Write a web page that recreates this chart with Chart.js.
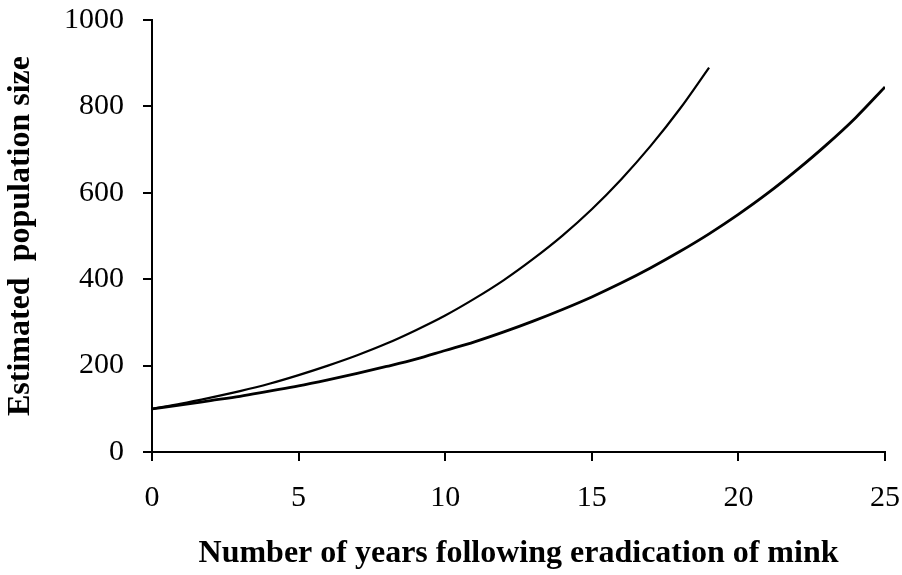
<!DOCTYPE html>
<html>
<head>
<meta charset="utf-8">
<script src="https://cdn.jsdelivr.net/npm/chart.js@4"></script>
<style>
  html, body { margin: 0; padding: 0; background: #fff; }
  #wrap { width: 902px; height: 575px; }
</style>
</head>
<body>
<div id="wrap"><canvas id="popChart" width="902" height="575"></canvas></div>
<script>
// years after eradication and the estimated sizes
const yearsFast = [0, 1, 2, 3, 4, 5, 6, 7, 8, 9, 10, 11, 12, 13, 14, 15, 16, 17, 18, 19];
const popFast = [100, 112, 126, 141, 158, 178, 200, 224, 251, 282, 316, 355, 398, 447, 501, 562, 631, 708, 794, 890];

const yearsSlow = [0, 1, 2, 3, 4, 5, 6, 7, 8, 9, 10, 11, 12, 13, 14, 15, 16, 17, 18, 19, 20, 21, 22, 23, 24, 25];
const popSlow = [100, 109, 119, 129, 141, 153, 167, 182, 198, 215, 235, 255, 278, 303, 330, 359, 391, 426, 464, 505, 550, 599, 653, 711, 774, 845];

const xTicks = [0, 5, 10, 15, 20, 25];
const yTicks = [0, 200, 400, 600, 800, 1000];

const serif = '"Liberation Serif", "Times New Roman", serif';

function toPoints(xs, ys) {
    return xs.map((x, i) => ({ x: x, y: ys[i] }));
}

const ctx = document.getElementById('popChart').getContext('2d');
const popChart = new Chart(ctx, {
    type: 'line',
    data: {
        datasets: [{
            label: 'fast',
            data: toPoints(yearsFast, popFast),
            borderColor: '#000',
            borderWidth: 2.2,
            pointRadius: 0,
            cubicInterpolationMode: 'monotone',
            fill: false
        }, {
            label: 'slow',
            data: toPoints(yearsSlow, popSlow),
            borderColor: '#000',
            borderWidth: 2.8,
            pointRadius: 0,
            cubicInterpolationMode: 'monotone',
            fill: false
        }]
    },
    options: {
        responsive: false,
        animation: false,
        layout: { padding: { top: 20, right: 17, left: 0, bottom: 0 } },
        plugins: {
            legend: { display: false },
            tooltip: { enabled: false }
        },
        scales: {
            x: {
                type: 'linear',
                min: 0,
                max: 25,
                afterBuildTicks: function(scale) {
                    scale.ticks = xTicks.map(v => ({ value: v }));
                },
                afterFit: function(scale) {
                    scale.height = 123;
                    scale.paddingLeft = 0;
                    scale.paddingRight = 0;
                },
                border: { display: true, color: '#000', width: 2 },
                grid: { drawOnChartArea: false, drawTicks: true, tickLength: 9, color: '#000', lineWidth: 2 },
                ticks: {
                    color: '#000',
                    padding: 19,
                    maxRotation: 0,
                    font: { family: serif, size: 30 },
                    callback: function(value) { return String(value); }
                },
                title: {
                    display: true,
                    text: 'Number of years following eradication of mink',
                    color: '#000',
                    font: { family: serif, size: 32, weight: 'bold' },
                    padding: { top: 0, bottom: 2 }
                }
            },
            y: {
                min: 0,
                max: 1000,
                afterBuildTicks: function(scale) {
                    scale.ticks = yTicks.map(v => ({ value: v }));
                },
                afterFit: function(scale) {
                    scale.width = 152;
                    scale.paddingTop = 0;
                    scale.paddingBottom = 0;
                },
                border: { display: true, color: '#000', width: 2 },
                grid: { drawOnChartArea: false, drawTicks: true, tickLength: 9, color: '#000', lineWidth: 2 },
                ticks: {
                    color: '#000',
                    padding: 19,
                    font: { family: serif, size: 30 },
                    callback: function(value) { return String(value); }
                },
                title: {
                    display: true,
                    text: 'Estimated  population size',
                    color: '#000',
                    font: { family: serif, size: 32, weight: 'bold' },
                    padding: { top: 2, bottom: 0 }
                }
            }
        }
    }
});
</script>
</body>
</html>
